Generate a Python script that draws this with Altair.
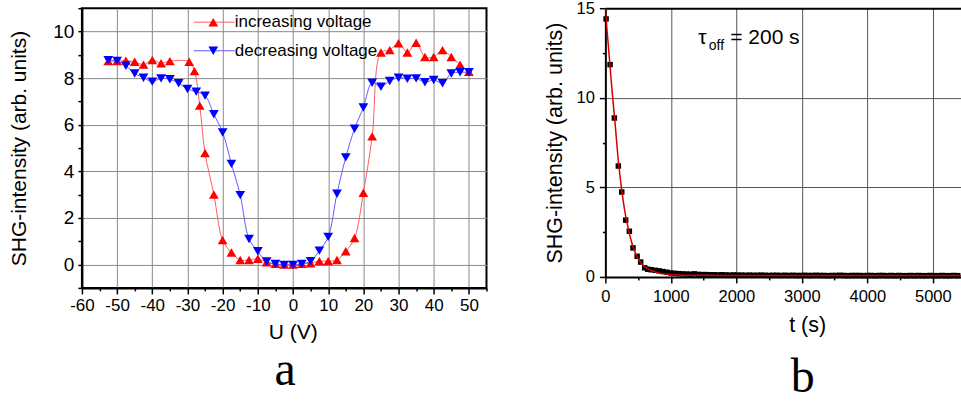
import altair as alt
import pandas as pd

# ---------------- panel a data ----------------
u_inc = [-52.5, -50, -47.5, -45, -42.5, -40, -37.5, -35, -29.5, -28, -26.5, -25,
         -22.5, -20, -17.5, -15, -12.5, -10, -7.5, -5, -2.5, 0,
         2.5, 5, 7.5, 10, 12.5, 15, 17.5, 20, 22.5, 25,
         27.5, 30, 32.5, 35, 37.5, 40, 42.5, 45, 47.5, 50]
shg_inc = [8.73, 8.73, 8.75, 8.70, 8.58, 8.78, 8.64, 8.73, 8.70, 8.30, 6.82, 4.79,
           3.01, 1.05, 0.52, 0.20, 0.20, 0.25, 0.10, 0.03, 0.0, 0.0,
           0.03, 0.06, 0.15, 0.15, 0.20, 0.57, 1.14, 3.08, 5.50, 9.10,
           9.20, 9.50, 9.10, 9.52, 8.91, 8.91, 9.20, 8.91, 8.58, 8.27]
u_dec = [-52.5, -50, -47.5, -45, -42.5, -40, -37.5, -35, -32.5, -30,
         -27.5, -25, -22.5, -20, -17.5, -15, -12.5, -10, -7.5, -5,
         -2.5, 0, 2.5, 5, 7.5, 10, 12.5, 15, 17.5, 20,
         22.5, 25, 27.5, 30, 32.5, 35, 37.5, 40, 42.5, 45,
         47.5, 50]
shg_dec = [8.77, 8.74, 8.53, 8.20, 8.02, 7.85, 7.99, 7.95, 7.78, 7.53,
           7.42, 7.25, 6.45, 5.67, 4.32, 2.98, 1.10, 0.57, 0.13, 0.03,
           -0.02, -0.02, 0.03, 0.15, 0.60, 1.19, 3.04, 4.60, 5.83, 6.74,
           7.80, 7.63, 7.88, 8.02, 7.97, 7.99, 7.82, 7.92, 7.78, 8.20,
           8.25, 8.25]
legend_labels = ["increasing voltage", "decreasing voltage"]
xa_ticks = [-60, -55, -50, -45, -40, -35, -30, -25, -20, -15, -10, -5, 0,
            5, 10, 15, 20, 25, 30, 35, 40, 45, 50, 55]
ya_ticks = [-1, 0, 1, 2, 3, 4, 5, 6, 7, 8, 9, 10, 11]

# ---------------- panel b data ----------------
t_data = [11, 72, 137, 198, 250, 310, 366, 422, 485, 539, 600, 646,
          700, 760, 820, 880, 940, 1000,
          1060, 1120, 1180, 1240, 1300, 1360, 1420, 1480, 1540, 1600,
          1660, 1720, 1780, 1840, 1900, 1960, 2020,
          2080, 2140, 2200, 2260, 2320, 2380, 2440, 2500, 2560, 2620,
          2680, 2740, 2800, 2860, 2920, 2980, 3040, 3100, 3160, 3220,
          3280, 3340, 3400, 3460, 3520, 3580, 3640, 3700, 3760, 3820,
          3880, 3940, 4000, 4060, 4120, 4180, 4240, 4300, 4360, 4420,
          4480, 4540, 4600, 4660, 4720, 4780, 4840, 4900, 4960, 5020,
          5080, 5140, 5200, 5260, 5320, 5380]
shg_t = [14.4, 11.85, 8.87, 6.19, 4.74, 3.17, 2.55, 1.62, 1.15, 0.83, 0.51, 0.43,
         0.40, 0.37, 0.34, 0.30, 0.26, 0.22,
         0.20, 0.18, 0.17, 0.16, 0.15, 0.17, 0.14, 0.13, 0.13, 0.12,
         0.12, 0.11, 0.12, 0.11, 0.10, 0.11, 0.10,
         0.10, 0.09, 0.10, 0.09, 0.09, 0.10, 0.09, 0.08, 0.09, 0.09,
         0.08, 0.09, 0.08, 0.09, 0.08, 0.08, 0.09, 0.08, 0.08, 0.09,
         0.08, 0.08, 0.07, 0.08, 0.08, 0.09, 0.08, 0.07, 0.08, 0.08,
         0.08, 0.07, 0.08, 0.08, 0.07, 0.08, 0.08, 0.07, 0.08, 0.07,
         0.08, 0.07, 0.07, 0.08, 0.07, 0.08, 0.07, 0.07, 0.08, 0.07,
         0.07, 0.08, 0.07, 0.07, 0.08, 0.07]
t_fit = [0, 25, 50, 75, 100, 150, 200, 250, 300, 350, 400, 450, 500, 550, 600,
         700, 800, 900, 1000, 1200, 1500, 2000, 3000, 4000, 5000, 5500]
shg_fit = [15.0, 13.8, 12.7, 11.6, 10.5, 8.5, 6.4, 4.85, 3.6, 2.7, 1.95, 1.4, 1.02, 0.76, 0.57,
           0.36, 0.24, 0.17, 0.13, 0.10, 0.09, 0.08, 0.08, 0.08, 0.08, 0.08]
xb_ticks = [0, 500, 1000, 1500, 2000, 2500, 3000, 3500, 4000, 4500, 5000]
yb_ticks = [0, 2.5, 5, 7.5, 10, 12.5, 15]

SANS = "Liberation Sans"
SERIF = "Liberation Serif"

df_inc = pd.DataFrame({"u": u_inc, "shg": shg_inc})
df_dec = pd.DataFrame({"u": u_dec, "shg": shg_dec})
df_leg = pd.DataFrame({"label": legend_labels})
df_b = pd.DataFrame({"t": t_data, "v": shg_t})
df_fit = pd.DataFrame({"t": t_fit, "v": shg_fit})

# ---------------- panel a ----------------
axis_xa = alt.Axis(
    values=xa_ticks, title="U (V)",
    labelExpr="datum.value % 10 === 0 ? '' + datum.value : ''",
    tickSize={"condition": {"test": "datum.value % 10 === 0", "value": 6}, "value": 3},
    gridOpacity={"condition": {"test": "datum.value % 10 === 0 && datum.value > -60 && datum.value < 55", "value": 1}, "value": 0},
    gridColor="#8a8a8a", gridWidth=1,
    domainColor="black", domainWidth=2, tickColor="black", tickWidth=1.5,
    labelFont=SANS, labelFontSize=17, labelColor="black", labelPadding=4,
    titleFont=SANS, titleFontSize=21, titleFontWeight="normal", titleColor="black",
    titlePadding=8, titleX=211, labelFlush=False, labelOverlap=False,
)
axis_ya = alt.Axis(
    values=ya_ticks, title="SHG-intensity  (arb. units)",
    labelExpr="datum.value % 2 === 0 && datum.value >= 0 && datum.value <= 10 ? '' + datum.value : ''",
    tickSize=4,
    gridOpacity={"condition": {"test": "datum.value % 2 === 0 && datum.value >= 0 && datum.value <= 10", "value": 1}, "value": 0},
    gridColor="#8a8a8a", gridWidth=1,
    domainColor="black", domainWidth=2, tickColor="black", tickWidth=1.5,
    labelFont=SANS, labelFontSize=19, labelColor="black", labelPadding=4,
    titleFont=SANS, titleFontSize=21, titleFontWeight="normal", titleColor="black",
    titlePadding=23.5, labelFlush=False, labelOverlap=False,
)
xa = alt.X("u:Q", scale=alt.Scale(domain=[-60, 55], nice=False, zero=False), axis=axis_xa)
ya = alt.Y("shg:Q", scale=alt.Scale(domain=[-1, 11], nice=False, zero=False), axis=axis_ya)

red_line = alt.Chart(df_inc).mark_line(color="#ff5c5c", strokeWidth=1, interpolate="catmull-rom").encode(x=xa, y=ya)
red_pts = alt.Chart(df_inc).mark_point(shape="triangle-up", filled=True, color="#ff0000", size=95, opacity=1).encode(x=xa, y=ya)
blue_line = alt.Chart(df_dec).mark_line(color="#5c5cff", strokeWidth=1, interpolate="catmull-rom").encode(x=xa, y=ya)
blue_pts = alt.Chart(df_dec).mark_point(shape="triangle-down", filled=True, color="#0000ff", size=95, opacity=1).encode(x=xa, y=ya)

leg_layers = []
for i, (lc, pc, shp) in enumerate([("#ff5c5c", "#ff0000", "triangle-up"), ("#5c5cff", "#0000ff", "triangle-down")]):
    yy = 14 + i * 28.6
    sub = alt.Chart(df_leg).transform_filter(f"datum.label == '{legend_labels[i]}'")
    leg_layers.append(sub.mark_rule(color=lc, strokeWidth=1).encode(x=alt.value(112), x2=alt.value(153), y=alt.value(yy)))
    leg_layers.append(sub.mark_point(shape=shp, filled=True, color=pc, size=95, opacity=1).encode(x=alt.value(131.5), y=alt.value(yy)))
    leg_layers.append(sub.mark_text(align="left", baseline="middle", font=SANS, fontSize=17, color="black")
                      .encode(x=alt.value(153), y=alt.value(yy), text="label:N"))

label_a = alt.Chart(pd.DataFrame({"lab": ["a"]})).mark_text(
    font=SERIF, fontSize=48, align="center", baseline="alphabetic", color="black"
).encode(x=alt.value(203.5), y=alt.value(377), text="lab:N")

panel_a = alt.layer(red_line, blue_line, red_pts, blue_pts, *leg_layers, label_a).properties(
    width=405, height=280,
    view=alt.ViewBackground(stroke="black", strokeWidth=2),
)

# ---------------- panel b ----------------
axis_xb = alt.Axis(
    values=xb_ticks, title="t (s)",
    labelExpr="datum.value % 1000 === 0 ? '' + datum.value : ''",
    tickSize={"condition": {"test": "datum.value % 1000 === 0", "value": 6}, "value": 3},
    gridOpacity={"condition": {"test": "datum.value % 1000 === 0 && datum.value > 0", "value": 1}, "value": 0},
    gridColor="#555555", gridWidth=1,
    domainColor="black", domainWidth=2, tickColor="black", tickWidth=1.5,
    labelFont=SANS, labelFontSize=16.5, labelColor="black", labelPadding=6,
    titleFont=SANS, titleFontSize=21.5, titleFontWeight="normal", titleColor="black",
    titlePadding=9, titleX=202, labelFlush=False, labelOverlap=False,
)
axis_yb = alt.Axis(
    values=yb_ticks, title="SHG-intensity (arb. units)",
    labelExpr="datum.value % 5 === 0 ? '' + datum.value : ''",
    tickSize={"condition": {"test": "datum.value % 5 === 0", "value": 6}, "value": 3},
    gridOpacity={"condition": {"test": "datum.value % 5 === 0 && datum.value > 0", "value": 1}, "value": 0},
    gridColor={"condition": {"test": "datum.value === 15", "value": "black"}, "value": "#555555"},
    gridWidth={"condition": {"test": "datum.value === 15", "value": 2}, "value": 1},
    domainColor="black", domainWidth=2, tickColor="black", tickWidth=1.5,
    labelFont=SANS, labelFontSize=16.5, labelColor="black", labelPadding=5,
    titleFont=SANS, titleFontSize=21.5, titleFontWeight="normal", titleColor="black",
    titlePadding=10, labelFlush=False, labelOverlap=False,
)
xb = alt.X("t:Q", scale=alt.Scale(domain=[0, 5430], nice=False, zero=False), axis=axis_xb)
yb = alt.Y("v:Q", scale=alt.Scale(domain=[0, 15], nice=False, zero=False), axis=axis_yb)

pts_b = alt.Chart(df_b).mark_square(size=30, color="black", opacity=1).encode(x=xb, y=yb)
fit_b = alt.Chart(df_fit).mark_line(color="#d40000", strokeWidth=1.5, interpolate="monotone", clip=True).encode(x=xb, y=yb)

tau_df = pd.DataFrame({"s": ["τ", "off", "= 200 s"]})
tau_main = alt.Chart(tau_df).transform_filter("datum.s == 'τ'").mark_text(
    font=SANS, fontSize=21, align="left", baseline="alphabetic", color="black"
).encode(x=alt.value(93), y=alt.value(36), text="s:N")
tau_sub = alt.Chart(tau_df).transform_filter("datum.s == 'off'").mark_text(
    font=SANS, fontSize=14, align="left", baseline="alphabetic", color="black"
).encode(x=alt.value(103.5), y=alt.value(42), text="s:N")
tau_val = alt.Chart(tau_df).transform_filter("datum.s == '= 200 s'").mark_text(
    font=SANS, fontSize=21, align="left", baseline="alphabetic", color="black"
).encode(x=alt.value(125), y=alt.value(36), text="s:N")

label_b = alt.Chart(pd.DataFrame({"lab": ["b"]})).mark_text(
    font=SERIF, fontSize=48, align="center", baseline="alphabetic", color="black"
).encode(x=alt.value(197.5), y=alt.value(384), text="lab:N")

panel_b = alt.layer(pts_b, fit_b, tau_main, tau_sub, tau_val, label_b).properties(
    width=356, height=269,
)

chart = alt.hconcat(panel_a, panel_b, spacing=119, bounds="flush").properties(
    padding={"left": 7, "top": -2, "right": 0, "bottom": 0},
    background="white",
).configure_view(stroke=None)

chart.save("out.html", embed_options={"renderer": "svg", "actions": False})
